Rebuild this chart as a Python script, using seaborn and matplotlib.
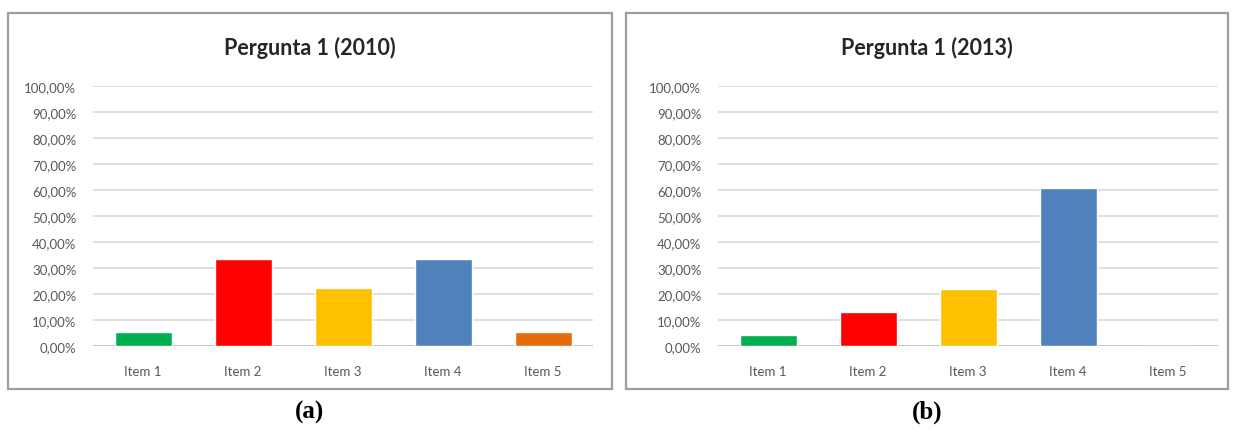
import matplotlib
matplotlib.use("Agg")
import matplotlib.pyplot as plt
from matplotlib.patches import Rectangle
from matplotlib.ticker import FuncFormatter, MultipleLocator
import seaborn as sns
import pandas as pd

# Survey answers to question 1, share of respondents per item
items = ["Item 1", "Item 2", "Item 3", "Item 4", "Item 5"]
share_2010 = [5.56, 33.33, 22.22, 33.33, 5.56]
share_2013 = [4.35, 13.04, 21.74, 60.87, 0.00]
titles = ["Pergunta 1 (2010)", "Pergunta 1 (2013)"]
panel_labels = ["(a)", "(b)"]
bar_colors = ["#00B050", "#FF0000", "#FFC000", "#4F81BD", "#E46C0A"]

sns.set_theme(style="white")
plt.rcParams["font.family"] = ["Lato", "DejaVu Sans"]

W, H = 1235, 435
fig = plt.figure(figsize=(W / 100, H / 100), dpi=100)
fig.patch.set_facecolor("white")


def px_rect(x0, y0, x1, y1):
    """Pixel box (top-left origin) to figure fraction [left, bottom, width, height]."""
    return [x0 / W, 1 - y1 / H, (x1 - x0) / W, (y1 - y0) / H]


text_gray = "#595959"
panels = [
    dict(values=share_2010, frame=(8, 14, 612, 390), plot=(93, 87, 593, 347)),
    dict(values=share_2013, frame=(626, 14, 1228, 390), plot=(718, 87, 1218, 347)),
]

for i, p in enumerate(panels):
    fx0, fy0, fx1, fy1 = p["frame"]
    fl, fb, fw, fh = px_rect(fx0, fy0, fx1, fy1)
    fig.patches.append(Rectangle((fl, fb), fw, fh, transform=fig.transFigure,
                                 facecolor="white", edgecolor="#9E9E9E",
                                 linewidth=1.6, zorder=-1))

    ax = fig.add_axes(px_rect(*p["plot"]))
    ax.set_zorder(2)
    df = pd.DataFrame({"item": items, "share": p["values"]})
    sns.barplot(data=df, x="item", y="share", hue="item", palette=bar_colors,
                legend=False, width=0.57, saturation=1, ax=ax, zorder=3)
    ax.set_xlim(-0.5, 4.5)
    ax.set_ylim(0, 100)
    ax.yaxis.set_major_locator(MultipleLocator(10))
    ax.yaxis.set_major_formatter(
        FuncFormatter(lambda v, _: f"{v:.2f}%".replace(".", ",")))
    ax.grid(axis="y", color="#D9D9D9", linewidth=1.2, zorder=0)
    ax.set_axisbelow(True)
    for s in ax.spines.values():
        s.set_visible(False)
    ax.axhline(0, color="#BFBFBF", linewidth=1.2, zorder=2)
    ax.tick_params(axis="y", length=0, pad=12, labelsize=9.5, labelcolor=text_gray)
    ax.tick_params(axis="x", length=0, pad=14, labelsize=9.5, labelcolor=text_gray)
    ax.set_xlabel("")
    ax.set_ylabel("")
    ax.patch.set_alpha(0)

    cx = (fx0 + fx1) / 2 / W
    fig.text(cx, 1 - 48 / H, titles[i], ha="center", va="center",
             fontsize=15.5, fontweight="bold", color="#262626")
    fig.text(cx, 1 - 412 / H, panel_labels[i], ha="center", va="center",
             fontsize=18, fontweight="bold", family="Liberation Serif",
             color="black")

fig.savefig("out.png", dpi=100, facecolor="white")
